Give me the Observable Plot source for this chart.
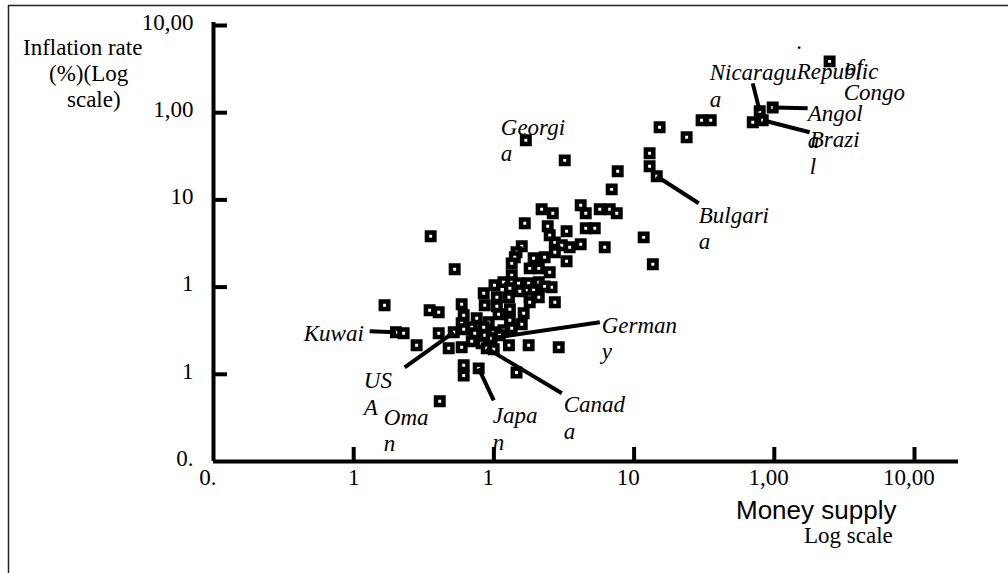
<!DOCTYPE html>
<html>
<head>
<meta charset="utf-8">
<script src="https://cdn.jsdelivr.net/npm/d3@7"></script>
<script src="https://cdn.jsdelivr.net/npm/@observablehq/plot@0.6"></script>
<style>
  html, body { margin: 0; padding: 0; background: white; }
  #chart svg { display: block; }
</style>
</head>
<body>
<div id="chart"></div>
<script>
// ---- data ----
const moneySupply = [2480, 974, 787, 827, 702, 303, 352, 237, 152, 129, 129, 145, 76.4, 69.2, 16.9, 32.0,
  41.6, 45.2, 56.9, 67.0, 75.2, 21.9, 26.3, 16.6, 24.2, 33.0, 45.2, 52.4, 25.0, 27.2, 30.5, 34.7, 41.6,
  15.8, 14.5, 14.1, 13.4, 19.2, 23.0, 27.2, 33.0, 18.0, 20.9, 25.0, 13.4, 13.4, 10.1, 11.7, 15.0, 17.7,
  20.9, 25.8, 8.46, 61.7, 117, 136, 3.54, 5.25, 1.66, 3.48, 4.04, 5.89, 2.0, 2.27, 2.81, 4.04, 4.76,
  5.89, 6.95, 6.09, 6.09, 7.79, 14.5, 4.11, 12.8, 17.7, 29.0, 23.0, 13.0, 15.3, 19.2, 10.5, 12.8, 18.0,
  20.9, 27.2, 8.60, 10.5, 13.0, 18.0, 16.3, 6.09, 7.54, 9.18, 10.8, 13.0, 15.8, 5.89, 6.95, 8.46, 9.97,
  11.7, 13.4, 5.17, 6.09, 7.30, 8.60, 9.64, 11.0, 8.18, 8.89, 9.97];
const inflation = [3880, 1150, 1040, 818, 776, 818, 818, 522, 680, 342, 243, 187, 213, 132, 482, 284,
  86.7, 70.2, 78.0, 78.0, 70.2, 78.0, 70.2, 53.9, 49.8, 43.6, 47.2, 47.2, 39.3, 32.6, 30.2, 28.6, 31.0,
  29.4, 25.1, 22.0, 18.7, 21.4, 22.0, 25.1, 19.8, 16.4, 16.4, 14.8, 13.7, 11.4, 10.5, 11.4, 11.1, 11.1,
  11.4, 9.95, 8.49, 28.6, 37.2, 18.3, 38.3, 16.0, 6.18, 5.42, 5.14, 6.35, 3.03, 2.95, 2.15, 2.95, 1.99,
  2.04, 2.39, 1.27, 0.97, 1.17, 1.05, 0.49, 2.15, 2.15, 2.04, 10.2, 9.69, 8.95, 9.19, 7.64, 7.64, 7.64,
  7.64, 6.69, 6.18, 6.02, 5.56, 6.69, 5.01, 4.75, 4.39, 3.95, 4.88, 4.16, 3.74, 3.85, 3.46, 3.46, 3.03,
  3.20, 3.37, 3.03, 3.28, 2.95, 2.80, 2.59, 2.80, 2.27, 1.99, 1.94];

// country labels (text, anchor at top-left of the text block, in data units)
const labelText = ["Georgi\na", "Nicaragu\na", ".", "Republic", "of", "Congo", "Angol\na", "Brazi\nl",
  "Bulgari\na", "Kuwai", "German\ny", "US\nA", "Oma\nn", "Japa\nn", "Canad\na"];
const labelX = [11.2, 346, 1445, 1445, 3177, 3126, 1730, 1788, 289, 0.44, 58.7, 1.18, 1.64, 9.80, 31.5];
const labelY = [910, 3880, 8810, 3990, 4436, 2291, 1316, 662, 89.1, 3.95, 4.88, 1.14, 0.43, 0.453, 0.605];

// leader lines: from the country's point to its label
const leaderName = ["Nicaragua", "Angola", "Brazil", "Bulgaria", "Kuwait", "Germany", "USA", "Japan", "Canada"];
const leaderX1 = [787, 974, 827, 145, 2.0, 9.64, 5.17, 7.79, 8.89];
const leaderY1 = [1040, 1150, 818, 187, 3.03, 2.59, 3.03, 1.17, 1.99];
const leaderX2 = [702, 1730, 1788, 289, 1.30, 56.9, 2.31, 9.97, 30.5];
const leaderY2 = [2170, 1123, 596, 91.4, 3.11, 3.95, 1.20, 0.503, 0.605];

// axis ticks
const tickValues = [0.1, 1, 10, 100, 1000, 10000];
const tickLabelsFull = ["0.1", "1", "10", "100", "1,000", "10,000"];
const tickLabelsShown = ["0.", "1", "1", "10", "1,00", "10,00"];

const yTitleLines = ["Inflation rate", "(%)(Log", "scale)"];
const xTitle = "Money supply";
const xSubtitle = "Log scale";

// ---- build ----
const points = moneySupply.map((m, i) => ({m, inf: inflation[i]}));
const labels = labelText.map((t, i) => ({t, x: labelX[i], y: labelY[i]}));
const leaders = leaderName.map((n, i) => ({n, x1: leaderX1[i], y1: leaderY1[i], x2: leaderX2[i], y2: leaderY2[i]}));

const serif = "Liberation Serif";
const ctx = document.createElement("canvas").getContext("2d");
ctx.font = `23px "${serif}"`;

const W = 1008, H = 573;
const mL = 213, mR = 50, mT = 22, mB = 112;

const xTickMarks = tickValues.map((v, i) => Plot.text([v], {
  x: d => d, frameAnchor: "bottom", text: () => tickLabelsShown[i],
  textAnchor: "start", lineAnchor: "top", dy: 7,
  dx: -ctx.measureText(tickLabelsFull[i]).width / 2,
  fontFamily: serif, fontSize: 23, fill: "black"
}));

const svg = Plot.plot({
  width: W, height: H,
  marginLeft: mL, marginRight: mR, marginTop: mT, marginBottom: mB,
  style: {background: "white", overflow: "visible"},
  x: {type: "log", domain: [0.1, 10000], range: [213, 914], axis: null},
  y: {type: "log", domain: [0.1, 10000], range: [461, 25], axis: null},
  marks: [
    Plot.dot(points, {x: "m", y: "inf", symbol: "square", r: 4.2, fill: "white", stroke: "black", strokeWidth: 4.5}),
    Plot.link(leaders, {x1: "x1", y1: "y1", x2: "x2", y2: "y2", stroke: "black", strokeWidth: 4}),
    Plot.text(labels, {x: "x", y: "y", text: "t", textAnchor: "start", lineAnchor: "top", lineHeight: 1.15,
      fontFamily: serif, fontStyle: "italic", fontSize: 23, fill: "black"}),
    // axis lines
    Plot.ruleY([0.1], {stroke: "black", strokeWidth: 4}),
    Plot.ruleX([0.1], {stroke: "black", strokeWidth: 4}),
    // inward ticks
    Plot.tickX(tickValues.slice(1), {x: d => d, stroke: "black", strokeWidth: 4, insetTop: (H - mT - mB) - 14}),
    Plot.tickY(tickValues.slice(1), {y: d => d, stroke: "black", strokeWidth: 4, insetRight: (W - mL - mR) - 14}),
    // y tick labels
    Plot.text(tickValues, {y: d => d, frameAnchor: "left", text: (d, i) => tickLabelsShown[i],
      textAnchor: "end", dx: -20, dy: -3, fontFamily: serif, fontSize: 23, fill: "black"}),
    ...xTickMarks
  ]
});

const s = d3.select(svg);
// frame (top and left edges)
s.append("line").attr("x1", 8).attr("x2", W).attr("y1", 5.5).attr("y2", 5.5).attr("stroke", "#222").attr("stroke-width", 1.5);
s.append("line").attr("x1", 8.5).attr("x2", 8.5).attr("y1", 5).attr("y2", H).attr("stroke", "#222").attr("stroke-width", 1.5);
// y title
const yTitleX = [23, 49, 67], yTitleBase = [55, 81, 107];
yTitleLines.forEach((t, i) => s.append("text").attr("x", yTitleX[i]).attr("y", yTitleBase[i])
  .attr("text-anchor", "start").attr("font-family", serif).attr("font-size", 23).attr("fill", "black").text(t));
// x title
s.append("text").attr("x", 736).attr("y", 519).attr("text-anchor", "start").attr("font-family", "Liberation Sans")
  .attr("font-size", 26).attr("fill", "black").text(xTitle);
s.append("text").attr("x", 804).attr("y", 543).attr("text-anchor", "start").attr("font-family", serif)
  .attr("font-size", 23).attr("fill", "black").text(xSubtitle);

document.getElementById("chart").appendChild(svg);
</script>
</body>
</html>
